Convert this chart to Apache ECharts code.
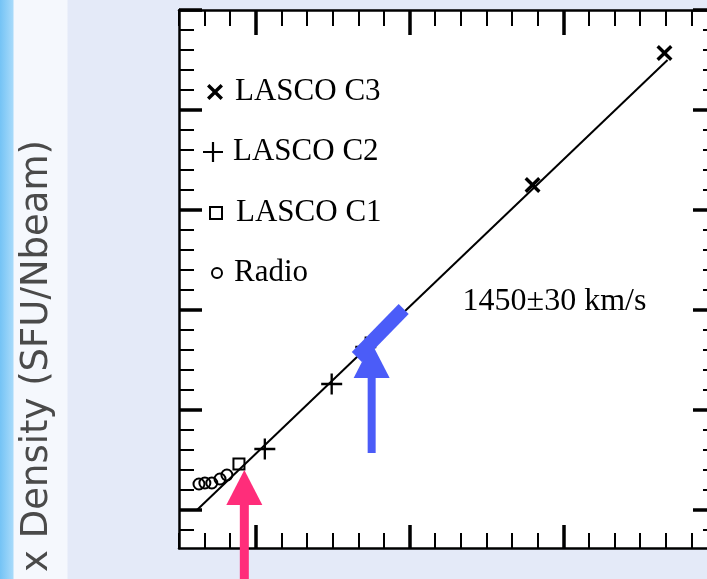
<!DOCTYPE html>
<html>
<head>
<meta charset="utf-8">
<script src="https://cdn.jsdelivr.net/npm/echarts@6/dist/echarts.min.js"></script>
<style>
  html, body { margin: 0; padding: 0; }
  #chart {
    width: 707px; height: 579px;
    background: linear-gradient(to right, #74c3f5 0px, #a7dafa 13px, #f5f8fd 14px, #f5f8fd 67px, #e4eaf8 68px);
  }
</style>
</head>
<body>
<div id="chart"></div>
<script>
// units: one minor tick on each axis
const xMinorTicks = [-3, -2, -1, 0, 1, 2, 3, 4, 5, 6, 7, 8, 9, 10, 11, 12, 13, 14, 15, 16, 17, 18]
const xMajorTicks = [0, 6, 12, 18]
const yMinorTicks = [-1, 0, 1, 2, 3, 4, 5, 6, 7, 8, 9, 10, 11, 12, 13, 14, 15, 16, 17, 18, 19, 20, 21, 22, 23, 24, 25]
const yMajorTicks = [0, 5, 10, 15, 20, 25]

const lascoC3 = [[10.8, 16.25], [15.95, 22.85]]
const lascoC2 = [[0.35, 3.05], [2.96, 6.3], [4.29, 8.15]]
const lascoC1 = [[-0.66, 2.3]]
const radio = [[-2.22, 1.3], [-1.99, 1.35], [-1.72, 1.35], [-1.40, 1.55], [-1.13, 1.75]]
const fitLine = [[-2.3, 0], [16.07, 22.5]]
const speedText = [[8.07, 10.4, '1450±30 km/s']]

// coloured marks drawn over the plot
const blueBar = [[3.94, 7.65], [5.77, 10.05]]
const blueShaft = [[4.52, 2.85], [4.52, 6.8]]
const blueHead = [[4.52, 7.48]]
const pinkShaft = [[-0.45, -3.6], [-0.45, 0.5]]
const pinkHead = [[-0.45, 1.125]]

const crossPath = 'path://M0,2.4 L2.4,0 L8,5.6 L13.6,0 L16,2.4 L10.4,8 L16,13.6 L13.6,16 L8,10.4 L2.4,16 L0,13.6 L5.6,8 Z'
const plusPath = 'path://M8.9,0 L11.1,0 L11.1,8.9 L20,8.9 L20,11.1 L11.1,11.1 L11.1,20 L8.9,20 L8.9,11.1 L0,11.1 L0,8.9 L8.9,8.9 Z'
const serif = '"Liberation Serif", "Times New Roman", serif'
const blue = '#4b5cf8'
const pink = '#ff2d7a'
const solid = { color: '#000', opacity: 1 }
const hollow = { color: 'rgba(0,0,0,0)', borderColor: '#000', borderWidth: 2, opacity: 1 }

const makeAxis = (pos, min, max, ticks, len, w, showLine) => ({
  type: 'value', position: pos, min: min, max: max,
  axisLine: { show: showLine, onZero: false, lineStyle: { color: '#000', width: 2.5 } },
  axisTick: { show: true, inside: true, customValues: ticks, length: len, lineStyle: { color: '#000', width: w } },
  axisLabel: { show: false },
  splitLine: { show: false }
})

const makeLegend = (name, left, top, size, pad) => ({
  data: [name], orient: 'vertical', left: left, top: top, padding: 0,
  itemWidth: size, itemHeight: size, selectedMode: false,
  textStyle: { fontFamily: serif, fontSize: 31, color: '#000', lineHeight: 31, padding: [0, 0, 0, pad] }
})

const chart = echarts.init(document.getElementById('chart'))
chart.setOption({
  animation: false,
  grid: { left: 179, top: 10, width: 538, height: 538, show: true, backgroundColor: '#fff', borderWidth: 0,
    outerBoundsMode: 'none', containLabel: false },
  xAxis: [
    makeAxis('bottom', -3, 18, xMinorTicks, 15, 2, true),
    makeAxis('bottom', -3, 18, xMajorTicks, 23, 3.5, false),
    makeAxis('top', -3, 18, xMinorTicks, 16, 2, true),
    makeAxis('top', -3, 18, xMajorTicks, 25, 3.5, false)
  ],
  yAxis: [
    makeAxis('left', -1.9, 25, yMinorTicks, 15, 2, true),
    makeAxis('left', -1.9, 25, yMajorTicks, 23, 3.5, false),
    makeAxis('right', -1.9, 25, yMinorTicks, 14, 2, true),
    makeAxis('right', -1.9, 25, yMajorTicks, 24, 3.5, false)
  ],
  legend: [
    makeLegend('LASCO C3', 207, 76.5, 16, 7),
    makeLegend('LASCO C2', 203, 136.5, 20, 5),
    makeLegend('LASCO C1', 209, 197.5, 12, 9),
    makeLegend('Radio', 211, 257.5, 10, 7)
  ],
  graphic: [{
    type: 'text', x: 37, y: 356, rotation: Math.PI / 2,
    style: { text: 'x Density (SFU/Nbeam)', font: '37px "DejaVu Sans"', fill: '#4a4a4a', align: 'center', verticalAlign: 'middle' }
  }],
  series: [
    { type: 'line', data: fitLine, symbol: 'none', lineStyle: { color: '#000', width: 2 }, silent: true },
    { name: 'LASCO C3', type: 'scatter', data: lascoC3, symbol: crossPath, symbolSize: 16, itemStyle: solid },
    { name: 'LASCO C2', type: 'scatter', data: lascoC2, symbol: plusPath, symbolSize: 21, itemStyle: solid },
    { name: 'LASCO C1', type: 'scatter', data: lascoC1, symbol: 'rect', symbolSize: 11, itemStyle: hollow },
    { name: 'Radio', type: 'scatter', data: radio, symbol: 'circle', symbolSize: 11, itemStyle: hollow },
    { type: 'scatter', data: speedText, symbolSize: 0, itemStyle: { opacity: 1 },
      label: { show: true, position: [0, 0], align: 'left', verticalAlign: 'middle', formatter: p => p.value[2],
        fontFamily: serif, fontSize: 32, color: '#000' } },
    { type: 'line', data: blueBar, symbol: 'none', lineStyle: { color: blue, width: 14, cap: 'butt' } },
    { type: 'line', data: blueShaft, symbol: 'none', clip: false, lineStyle: { color: blue, width: 8, cap: 'butt' } },
    { type: 'scatter', data: blueHead, symbol: 'triangle', symbolSize: [36, 35], clip: false, itemStyle: { color: blue, opacity: 1 } },
    { type: 'line', data: pinkShaft, symbol: 'none', clip: false, lineStyle: { color: pink, width: 9, cap: 'butt' } },
    { type: 'scatter', data: pinkHead, symbol: 'triangle', symbolSize: [36, 35], clip: false, itemStyle: { color: pink, opacity: 1 } }
  ]
})
</script>
</body>
</html>
